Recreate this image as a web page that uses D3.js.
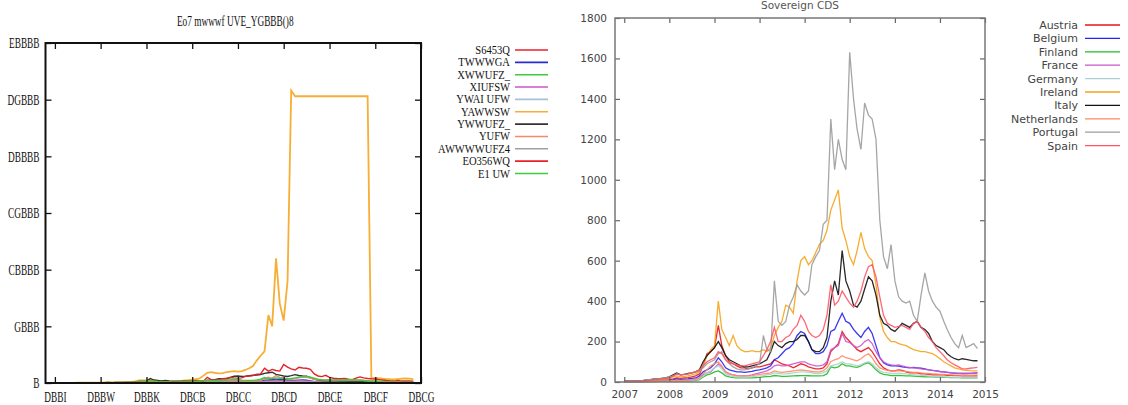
<!DOCTYPE html>
<head>
<meta charset="utf-8">
<script src="https://d3js.org/d3.v7.min.js"></script>
<style>
  body { margin: 0; background: #fff; }
</style>
</head>
<body>
<svg id="chart" width="1128" height="405"></svg>
</body>
<script>
// monthly observations, Jan 2007 .. Nov 2014
const months = d3.timeMonth.range(new Date(2007, 0, 1), new Date(2014, 11, 1));
const years = [2007, 2008, 2009, 2010, 2011, 2012, 2013, 2014, 2015];

const countries = ["Austria", "Belgium", "Finland", "France", "Germany", "Ireland", "Italy", "Netherlands", "Portugal", "Spain"];

const austria = [
  2,2,2,3,3,3,4,5,6,7,8,10,
  12,15,20,18,20,22,25,30,40,80,140,150,
  170,280,180,130,100,90,80,70,70,65,70,75,
  75,80,85,90,110,100,90,85,80,70,80,90,
  85,75,70,65,65,70,90,150,170,190,250,220,
  200,180,160,150,160,170,150,120,90,70,60,55,
  55,60,58,50,45,45,45,40,40,38,35,35,
  35,35,33,33,32,32,30,30,30,30,30];
const belgium = [
  2,2,2,2,2,3,3,4,5,5,6,7,
  8,10,15,12,14,15,18,20,30,50,60,70,
  90,120,100,70,60,55,50,50,48,50,52,58,
  60,65,70,80,110,120,140,160,170,190,230,250,
  240,200,160,140,140,150,180,250,260,300,340,300,
  290,260,240,220,250,270,240,180,120,95,85,80,
  80,78,75,72,70,72,70,68,65,60,58,55,
  52,50,48,45,44,43,42,42,43,44,45];
const finland = [
  2,2,2,2,2,2,2,2,2,3,3,3,
  3,4,5,5,5,5,6,8,12,25,35,40,
  50,55,45,30,25,22,20,20,20,20,21,22,
  23,25,27,28,32,30,28,28,29,30,31,32,
  32,31,30,30,30,32,40,75,70,75,90,80,
  80,75,72,80,90,95,80,60,45,38,35,32,
  32,33,32,30,30,29,28,27,26,25,25,24,
  24,23,23,22,22,22,21,21,21,21,21];
const france = [
  2,2,2,2,2,2,3,3,4,4,5,5,
  6,8,10,9,10,10,12,14,20,35,45,50,
  70,90,75,50,40,35,32,30,30,32,35,40,
  45,50,55,65,80,85,80,80,85,90,95,100,
  100,90,85,80,80,85,100,160,170,180,240,200,
  195,180,170,180,200,210,190,150,120,100,90,85,
  82,85,80,75,72,70,68,65,62,60,57,55,
  52,50,48,46,44,43,42,42,42,43,45];
const germany = [
  2,2,2,2,2,2,2,2,3,3,3,3,
  4,5,6,6,6,6,8,10,15,30,45,55,
  70,80,65,40,32,28,25,24,24,24,25,28,
  30,32,35,38,45,42,40,40,42,45,48,50,
  50,48,45,42,42,45,55,80,85,90,100,90,
  90,85,80,85,95,100,90,70,55,48,45,42,
  42,44,42,40,38,36,35,33,32,30,28,27,
  26,25,24,24,23,23,22,22,22,22,22];
const ireland = [
  3,3,3,4,4,5,6,8,10,10,12,14,
  18,25,30,25,28,30,35,40,50,80,130,160,
  180,400,260,220,180,230,180,160,150,150,155,150,
  150,160,150,170,230,270,300,380,370,340,500,600,
  620,580,600,640,680,700,750,850,900,950,760,700,
  620,580,650,740,660,620,600,480,320,250,220,200,
  200,190,185,180,170,160,155,150,150,145,140,130,
  115,100,90,80,70,65,60,58,56,55,55];
const italy = [
  5,5,5,6,6,7,10,12,15,15,18,20,
  25,35,45,35,38,42,45,50,60,100,130,150,
  170,200,170,130,110,100,90,80,75,75,80,85,
  90,100,110,150,200,180,170,190,200,200,210,230,
  230,200,160,150,150,170,220,400,500,430,650,500,
  450,380,370,400,460,520,500,430,330,290,280,260,
  250,270,290,280,270,290,300,270,260,240,200,180,
  170,160,140,125,115,110,115,112,108,105,105];
const netherlands = [
  2,2,2,2,2,2,2,3,3,3,4,4,
  5,6,8,7,8,8,10,12,20,40,60,80,
  90,100,80,50,40,35,32,30,30,30,32,35,
  38,40,42,45,55,50,48,50,52,55,58,60,
  58,55,52,50,50,55,70,100,110,115,130,120,
  115,110,105,115,130,140,120,90,70,62,58,55,
  55,56,54,52,50,48,47,45,43,42,40,40,
  38,37,36,35,34,34,33,33,33,34,35];
const portugal = [
  5,5,5,6,6,8,12,12,15,15,18,20,
  25,30,40,35,38,40,45,50,55,70,90,100,
  110,140,150,110,90,75,65,60,60,65,70,80,
  90,230,160,150,500,300,280,300,380,420,480,450,
  430,450,580,620,650,780,800,1300,1050,1200,1100,1050,
  1630,1400,1250,1150,1380,1320,1300,1200,800,620,560,680,
  500,420,400,390,400,330,300,430,540,450,400,370,
  350,300,260,220,190,170,230,170,180,190,165];
const spain = [
  3,3,3,3,4,5,6,8,10,12,14,15,
  20,30,40,35,38,40,45,50,60,80,100,110,
  120,150,140,110,95,90,85,80,80,85,90,95,
  100,130,160,200,270,200,200,220,230,260,280,330,
  300,250,230,220,230,260,330,480,380,400,450,420,
  390,370,400,450,520,570,580,520,420,330,290,280,
  270,275,280,270,260,290,300,270,250,220,200,170,
  150,130,110,95,85,75,65,65,68,70,72];
// only in the left panel
const greece = [
  15,15,15,16,16,18,20,22,25,25,28,30,
  35,45,55,50,55,60,65,70,90,150,220,230,
  240,260,230,180,150,140,130,130,140,160,220,250,
  300,350,400,650,900,950,900,850,880,950,1000,1050,
  1000,1050,1150,1300,1500,2000,2400,2800,6000,5000,11000,7000,
  5500,9000,25800,25300,25300,25300,25300,25300,25300,25300,25300,25300,
  25300,25300,25300,25300,25300,25300,25300,25300,25300,25300,25300,400,
  450,420,380,350,330,320,350,380,400,380,350];

const rightSeries = [austria, belgium, finland, france, germany, ireland, italy, netherlands, portugal, spain];
const rightColors = ["#e8141c", "#2424ee", "#22bb22", "#cc55cc", "#a9d3d3", "#f5a31a", "#111111", "#ff8a60", "#9c9c9c", "#ff5566"];
const rightTitle = "Sovereign CDS";
const rightYTicks = [0, 200, 400, 600, 800, 1000, 1200, 1400, 1600, 1800];

// left panel: same data plus Greece, labels rendered in a broken font
const leftSeries = [austria, belgium, finland, france, germany, greece, ireland, italy, netherlands, portugal, spain];
const leftColors = ["#e8202a", "#2b2bd6", "#3ccc3c", "#cc55cc", "#a8c0d8", "#f7ae35", "#333333", "#f58a6a", "#a0a0a0", "#e8202a", "#3ccc3c"];
const leftLegend = ["S6453Q", "TWWWGA", "XWWUFZ_", "XIUFSW", "YWAI UFW", "YAWWSW", "YWWUFZ_", "YUFW", "AWWWWUFZ4", "EO356WQ", "E1 UW"];
const leftTitle = "Eo7 mwwwf UVE_YGBBB()8";
const leftYTicks = [0, 5000, 10000, 15000, 20000, 25000, 30000];
const leftYLabels = ["B", "GBBB", "CBBBB", "CGBBB", "DBBBB", "DGBBB", "EBBBB"];
const leftXLabels = ["DBBI", "DBBW", "DBBK", "DBCB", "DBCC", "DBCD", "DBCE", "DBCF", "DBCG"];

const svg = d3.select("#chart");
const xDomain = [new Date(2006, 9, 18), new Date(2015, 0, 1)];
const yearDates = years.map(y => new Date(y, 0, 1));

// ---------- left panel ----------
{
  const L = {left: 45.5, right: 421, top: 43, bottom: 383};
  const x = d3.scaleTime().domain(xDomain).range([L.left, L.right]);
  const y = d3.scaleLinear().domain([0, 30000]).range([L.bottom, L.top]);
  const g = svg.append("g");
  const squeeze = "scale(0.62,1)";

  const line = d3.line().x((d, i) => x(months[i])).y(d => y(d));
  leftSeries.forEach((s, i) => {
    g.append("path").datum(s)
      .attr("fill", "none")
      .attr("stroke", leftColors[i])
      .attr("stroke-width", i == 5 ? 1.8 : 1.4)
      .attr("d", line);
  });

  const xb = g.append("g").attr("transform", `translate(0,${L.bottom})`)
    .call(d3.axisBottom(x).tickValues(yearDates).tickSize(-6).tickPadding(8)
      .tickFormat((d, i) => leftXLabels[i]));
  const xt = g.append("g").attr("transform", `translate(0,${L.top})`)
    .call(d3.axisTop(x).tickValues(yearDates).tickSize(-6).tickFormat(""));
  const yl = g.append("g").attr("transform", `translate(${L.left},0)`)
    .call(d3.axisLeft(y).tickValues(leftYTicks).tickSize(-6)
      .tickFormat((d, i) => leftYLabels[i]));
  const yr = g.append("g").attr("transform", `translate(${L.right},0)`)
    .call(d3.axisRight(y).tickValues(leftYTicks).tickSize(-6).tickFormat(""));
  [xb, xt, yl, yr].forEach(a => {
    a.select(".domain").remove();
    a.selectAll("line").attr("stroke", "#111").attr("stroke-width", 1.3);
    a.selectAll("text").attr("fill", "#111")
      .style("font-family", "Liberation Serif").style("font-size", "15px");
  });
  xb.selectAll("text").attr("x", 0).attr("transform", squeeze);
  yl.selectAll("text").attr("x", 0).attr("transform", "translate(-6,0) " + squeeze);

  g.append("rect")
    .attr("x", L.left).attr("y", L.top)
    .attr("width", L.right - L.left).attr("height", L.bottom - L.top)
    .attr("fill", "none").attr("stroke", "#111").attr("stroke-width", 2);

  g.append("text")
    .attr("transform", `translate(${(L.left + L.right) / 2 + 2},26) ${squeeze}`)
    .attr("text-anchor", "middle")
    .style("font-family", "Liberation Serif").style("font-size", "15px")
    .attr("fill", "#111")
    .text(leftTitle);

  const lg = g.append("g");
  leftLegend.forEach((name, i) => {
    const yy = 50 + i * 12.35;
    lg.append("text")
      .attr("transform", `translate(510,${yy + 4}) scale(0.92,1)`)
      .attr("text-anchor", "end")
      .style("font-family", "Liberation Serif").style("font-size", "11.5px")
      .attr("fill", "#111")
      .text(name);
    lg.append("line")
      .attr("x1", 515).attr("x2", 548).attr("y1", yy).attr("y2", yy)
      .attr("stroke", leftColors[i]).attr("stroke-width", 1.6);
  });
}

// ---------- right panel ----------
{
  const R = {left: 615, right: 985, top: 18, bottom: 382};
  const x = d3.scaleTime().domain(xDomain).range([R.left, R.right]);
  const y = d3.scaleLinear().domain([0, 1800]).range([R.bottom, R.top]);
  const g = svg.append("g");

  const line = d3.line().x((d, i) => x(months[i])).y(d => y(d));
  rightSeries.forEach((s, i) => {
    g.append("path").datum(s)
      .attr("fill", "none")
      .attr("stroke", rightColors[i])
      .attr("stroke-width", 1.3)
      .attr("stroke-opacity", 0.9)
      .attr("d", line);
  });

  const xb = g.append("g").attr("transform", `translate(0,${R.bottom})`)
    .call(d3.axisBottom(x).tickValues(yearDates).tickSize(-5).tickPadding(9)
      .tickFormat(d3.timeFormat("%Y")));
  const xt = g.append("g").attr("transform", `translate(0,${R.top})`)
    .call(d3.axisTop(x).tickValues(yearDates).tickSize(-5).tickFormat(""));
  const yl = g.append("g").attr("transform", `translate(${R.left},0)`)
    .call(d3.axisLeft(y).tickValues(rightYTicks).tickSize(-5).tickPadding(8)
      .tickFormat(d3.format("d")));
  const yr = g.append("g").attr("transform", `translate(${R.right},0)`)
    .call(d3.axisRight(y).tickValues(rightYTicks).tickSize(-5).tickFormat(""));
  [xb, xt, yl, yr].forEach(a => {
    a.select(".domain").remove();
    a.selectAll("line").attr("stroke", "#666").attr("stroke-width", 1.2);
    a.selectAll("text").attr("fill", "#444")
      .style("font-family", "DejaVu Sans").style("font-size", "10.5px");
  });

  g.append("rect")
    .attr("x", R.left).attr("y", R.top)
    .attr("width", R.right - R.left).attr("height", R.bottom - R.top)
    .attr("fill", "none").attr("stroke", "#777").attr("stroke-width", 1.5);

  g.append("text")
    .attr("x", (R.left + R.right) / 2).attr("y", 9)
    .attr("text-anchor", "middle")
    .style("font-family", "DejaVu Sans").style("font-size", "10.5px")
    .attr("fill", "#555")
    .text(rightTitle);

  const lg = g.append("g");
  countries.forEach((name, i) => {
    const yy = 25 + i * 13.4;
    lg.append("text")
      .attr("x", 1078).attr("y", yy + 4)
      .attr("text-anchor", "end")
      .style("font-family", "DejaVu Sans").style("font-size", "11px")
      .attr("fill", "#444")
      .text(name);
    lg.append("line")
      .attr("x1", 1085).attr("x2", 1120).attr("y1", yy).attr("y2", yy)
      .attr("stroke", rightColors[i]).attr("stroke-width", 1.3);
  });
}
</script>
</html>
